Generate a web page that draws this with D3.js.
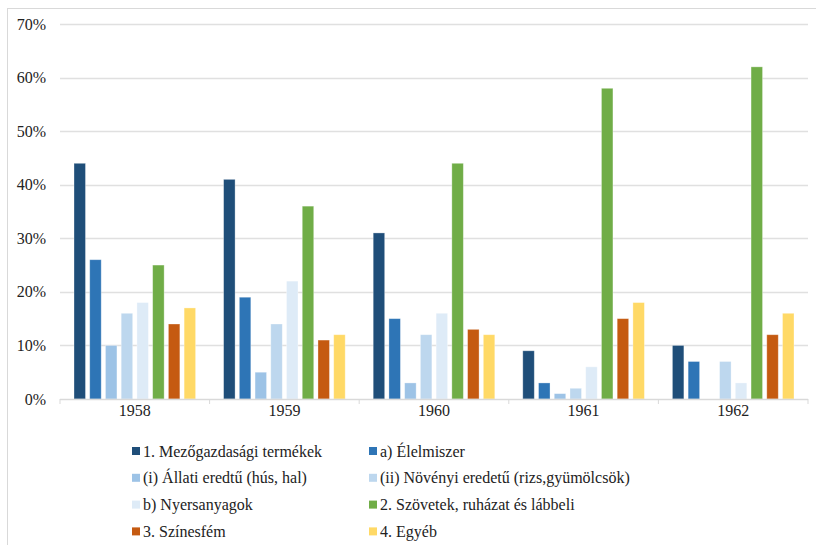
<!DOCTYPE html>
<html>
<head>
<meta charset="utf-8">
<script src="https://cdn.jsdelivr.net/npm/d3@7"></script>
</head>
<body style="margin:0">
<div id="vis"></div>
<script>
var years = ["1958", "1959", "1960", "1961", "1962"];
var seriesNames = [
  "1. Mezőgazdasági termékek",
  "a) Élelmiszer",
  "(i) Állati eredtű (hús, hal)",
  "(ii) Növényi eredetű (rizs,gyümölcsök)",
  "b) Nyersanyagok",
  "2. Szövetek, ruházat és lábbeli",
  "3. Színesfém",
  "4. Egyéb"
];
var colors = ["#1f4e79", "#2e75b6", "#9dc3e6", "#bdd7ee", "#deebf7", "#70ad47", "#c55a11", "#ffd966"];
// percent values per series, in year order
var mezogazdasagi = [44, 41, 31, 9, 10];
var elelmiszer = [26, 19, 15, 3, 7];
var allati = [10, 5, 3, 1, 0];
var novenyi = [16, 14, 12, 2, 7];
var nyersanyagok = [18, 22, 16, 6, 3];
var szovetek = [25, 36, 44, 58, 62];
var szinesfem = [14, 11, 13, 15, 12];
var egyeb = [17, 12, 12, 18, 16];
var yTicks = [0, 10, 20, 30, 40, 50, 60, 70];

var seriesValues = [mezogazdasagi, elelmiszer, allati, novenyi, nyersanyagok, szovetek, szinesfem, egyeb];
var serif = "'Liberation Serif'";

var w = 816, h = 545,
    svg = d3.select("#vis")
        .append("svg")
        .attr("width", w)
        .attr("height", h);

// chart frame (only left and top edges show in the picture)
svg.append("rect")
    .attr("x", 7.5).attr("y", 8.5)
    .attr("width", 900).attr("height", 600)
    .attr("fill", "none")
    .attr("stroke", "#d9d9d9");

var plotLeft = 60, plotRight = 808, plotTop = 24, plotBottom = 399;

var x0 = d3.scaleBand().domain(years).range([plotLeft, plotRight]).padding(0);
var x1 = d3.scaleBand().domain(d3.range(seriesNames.length))
    .range([14, x0.bandwidth() - 14]).paddingInner(0.27);
var y = d3.scaleLinear().domain([0, 70]).range([plotBottom, plotTop]);

// gridlines
svg.append("g")
    .selectAll("line")
    .data(yTicks.slice(1))
  .enter().append("line")
    .attr("x1", plotLeft).attr("x2", plotRight)
    .attr("y1", function(d) { return Math.round(y(d)) + 0.5; })
    .attr("y2", function(d) { return Math.round(y(d)) + 0.5; })
    .attr("stroke", "#e0e0e0")
    .attr("stroke-width", 1.3);

// y labels
svg.selectAll(".ylab")
    .data(yTicks)
  .enter().append("text")
    .attr("class", "ylab")
    .attr("x", 46)
    .attr("y", function(d) { return y(d) + 5.5; })
    .attr("text-anchor", "end")
    .style("fill", "#222")
    .style("font-family", serif)
    .style("font-size", "16px")
    .text(function(d) { return d + "%"; });

// bars
var groups = svg.append("g")
    .selectAll("g")
    .data(years)
  .enter().append("g")
    .attr("transform", function(d) { return "translate(" + x0(d) + ",0)"; });

groups.selectAll("rect")
    .data(function(d, yi) {
      return seriesValues.map(function(vals, si) { return { s: si, v: vals[yi] }; });
    })
  .enter().append("rect")
    .filter(function(d) { return d.v > 0; })
    .attr("x", function(d) { return x1(d.s); })
    .attr("width", x1.bandwidth())
    .attr("y", function(d) { return y(d.v); })
    .attr("height", function(d) { return plotBottom - y(d.v); })
    .attr("fill", function(d) { return colors[d.s]; })
    .attr("stroke", "#fff")
    .attr("stroke-opacity", 0.4)
    .attr("stroke-width", 0.8);

// category axis
svg.append("line")
    .attr("x1", plotLeft).attr("x2", plotRight)
    .attr("y1", plotBottom + 0.5).attr("y2", plotBottom + 0.5)
    .attr("stroke", "#d9d9d9")
    .attr("stroke-width", 1.3);
svg.selectAll(".xtick")
    .data(years.concat(["end"]))
  .enter().append("line")
    .attr("class", "xtick")
    .attr("x1", function(d, i) { return plotLeft + i * x0.bandwidth(); })
    .attr("x2", function(d, i) { return plotLeft + i * x0.bandwidth(); })
    .attr("y1", plotBottom).attr("y2", plotBottom + 5)
    .attr("stroke", "#d9d9d9");
svg.selectAll(".xlab")
    .data(years)
  .enter().append("text")
    .attr("class", "xlab")
    .attr("x", function(d) { return x0(d) + x0.bandwidth() / 2; })
    .attr("y", 416)
    .attr("text-anchor", "middle")
    .style("fill", "#222")
    .style("font-family", serif)
    .style("font-size", "16px")
    .text(function(d) { return d; });

// legend, two columns
svg.selectAll(".legsw")
    .data(seriesNames)
  .enter().append("rect")
    .attr("class", "legsw")
    .attr("x", function(d, i) { return i % 2 ? 369 : 132; })
    .attr("y", function(d, i) { return 447 + Math.floor(i / 2) * 26.8; })
    .attr("width", 8).attr("height", 8)
    .attr("fill", function(d, i) { return colors[i]; });
svg.selectAll(".legtx")
    .data(seriesNames)
  .enter().append("text")
    .attr("class", "legtx")
    .attr("x", function(d, i) { return (i % 2 ? 369 : 132) + 11; })
    .attr("y", function(d, i) { return 456.5 + Math.floor(i / 2) * 26.8; })
    .style("fill", "#222")
    .style("font-family", serif)
    .style("font-size", "16px")
    .text(function(d) { return d; });
</script>
</body>
</html>
